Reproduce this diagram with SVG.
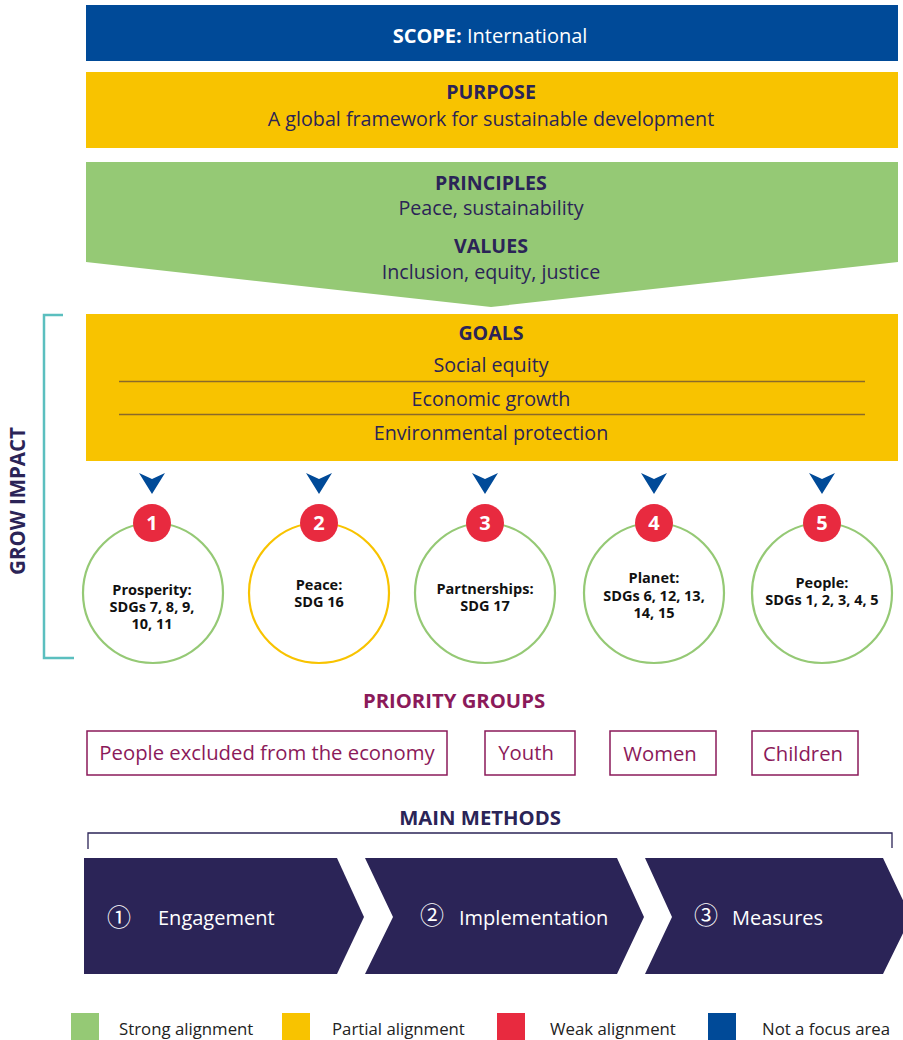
<svg xmlns="http://www.w3.org/2000/svg" width="903" height="1040" viewBox="0 0 903 1040">
<style>
text{font-family:"Open Sans","Noto Sans","DejaVu Sans",sans-serif;}
.navy{fill:#2b2457;}
.h{font-weight:bold;font-size:19.6px;}
.t{font-size:19.7px;}
.c{text-anchor:middle;}
.ct{font-weight:bold;font-size:14.5px;fill:#111;text-anchor:middle;}
.num{font-weight:bold;font-size:20px;fill:#fff;text-anchor:middle;}
.badge{fill:#e82a3f;}
.ring{fill:#fff;stroke-width:2.2;}
.pg{fill:#fff;stroke:#8b1a5a;stroke-width:1.5;}
.pgt{fill:#8b1a5a;font-size:20.3px;text-anchor:middle;}
.chev{fill:#2b2457;}
.mt{fill:#fff;font-size:20px;}
.cn{fill:#fff;font-size:24px;text-anchor:middle;font-family:"Noto Sans CJK JP","DejaVu Sans",sans-serif;}
.lg{font-size:16.8px;fill:#222;}
.sep{stroke:#8a6a2a;stroke-width:1.3;}
</style>
<defs>
<path id="tri" d="M-13,-11 L0,-5 L13,-11 L0,10 Z" fill="#004a98"/>
</defs>

<g id="scope">
<rect x="86" y="5" width="812" height="56" fill="#004a98"/>
<text x="490" y="43" class="c" font-size="20" fill="#fff"><tspan font-weight="bold">SCOPE:</tspan> International</text>
</g>

<g id="purpose">
<rect x="86" y="72" width="812" height="76" fill="#f8c300"/>
<text x="491" y="99" class="h c navy">PURPOSE</text>
<text x="491" y="126" class="t c navy">A global framework for sustainable development</text>
</g>

<g id="principles">
<polygon points="86,162 898,162 898,262 491,307 86,262" fill="#95c975"/>
<text x="491" y="190" class="h c navy">PRINCIPLES</text>
<text x="491" y="215" class="t c navy">Peace, sustainability</text>
<text x="491" y="253" class="h c navy">VALUES</text>
<text x="491" y="279" class="t c navy">Inclusion, equity, justice</text>
</g>

<g id="goals">
<rect x="86" y="314" width="812" height="147" fill="#f8c300"/>
<text x="491" y="340" class="h c navy">GOALS</text>
<text x="491" y="372" class="t c navy">Social equity</text>
<line x1="119" y1="381.5" x2="865" y2="381.5" class="sep"/>
<text x="491" y="406" class="t c navy">Economic growth</text>
<line x1="119" y1="414.5" x2="865" y2="414.5" class="sep"/>
<text x="491" y="440" class="t c navy">Environmental protection</text>
</g>

<g id="grow-impact">
<polyline points="63,315 44,315 44,658 74,658" fill="none" stroke="#5bbfbf" stroke-width="2.5"/>
<text transform="translate(25,501) rotate(-90)" class="c navy" font-weight="bold" font-size="20.5">GROW IMPACT</text>
</g>

<g id="connectors">
<use href="#tri" x="152" y="484"/>
<use href="#tri" x="319" y="484"/>
<use href="#tri" x="485" y="484"/>
<use href="#tri" x="654" y="484"/>
<use href="#tri" x="822" y="484"/>
</g>

<g id="prosperity">
<circle cx="153" cy="593" r="70" class="ring" stroke="#95c975"/>
<circle cx="152" cy="523" r="19" class="badge"/>
<text x="152" y="530" class="num">1</text>
<text x="152" y="595" class="ct">Prosperity:</text>
<text x="152" y="612" class="ct">SDGs 7, 8, 9,</text>
<text x="152" y="629" class="ct">10, 11</text>
</g>

<g id="peace">
<circle cx="319" cy="593" r="70" class="ring" stroke="#f8c300"/>
<circle cx="319" cy="523" r="19" class="badge"/>
<text x="319" y="530" class="num">2</text>
<text x="319" y="590" class="ct">Peace:</text>
<text x="319" y="607" class="ct">SDG 16</text>
</g>

<g id="partnerships">
<circle cx="485" cy="593" r="70" class="ring" stroke="#95c975"/>
<circle cx="485" cy="523" r="19" class="badge"/>
<text x="485" y="530" class="num">3</text>
<text x="485" y="594" class="ct">Partnerships:</text>
<text x="485" y="611" class="ct">SDG 17</text>
</g>

<g id="planet">
<circle cx="654" cy="593" r="70" class="ring" stroke="#95c975"/>
<circle cx="654" cy="523" r="19" class="badge"/>
<text x="654" y="530" class="num">4</text>
<text x="654" y="583" class="ct">Planet:</text>
<text x="654" y="601" class="ct">SDGs 6, 12, 13,</text>
<text x="654" y="618" class="ct">14, 15</text>
</g>

<g id="people">
<circle cx="822" cy="593" r="70" class="ring" stroke="#95c975"/>
<circle cx="822" cy="523" r="19" class="badge"/>
<text x="822" y="530" class="num">5</text>
<text x="822" y="588" class="ct">People:</text>
<text x="822" y="605" class="ct">SDGs 1, 2, 3, 4, 5</text>
</g>

<g id="priority-groups">
<text x="454" y="708" class="c" font-weight="bold" font-size="20.3" fill="#8b1a5a">PRIORITY GROUPS</text>
</g>
<g id="pg-excluded">
<rect x="87" y="731" width="360" height="44" class="pg"/>
<text x="267" y="760" class="pgt">People excluded from the economy</text>
</g>
<g id="pg-youth">
<rect x="485" y="731" width="90" height="44" class="pg"/>
<text x="526" y="760" class="pgt">Youth</text>
</g>
<g id="pg-women">
<rect x="610" y="731" width="106" height="44" class="pg"/>
<text x="660" y="761" class="pgt">Women</text>
</g>
<g id="pg-children">
<rect x="752" y="731" width="106" height="44" class="pg"/>
<text x="803" y="761" class="pgt">Children</text>
</g>

<g id="main-methods">
<text x="480" y="825" class="c navy" font-weight="bold" font-size="20.3">MAIN METHODS</text>
<polyline points="88,849 88,833 892,833 892,848" fill="none" stroke="#2b2457" stroke-width="1.3"/>
</g>

<g id="engagement">
<polygon points="84,858 337,858 364,917 337,974 84,974" class="chev"/>
<text x="119" y="926" class="cn">①</text>
<text x="158" y="925" class="mt">Engagement</text>
</g>
<g id="implementation">
<polygon points="365,858 617,858 644,917 617,974 365,974 393,917" class="chev"/>
<text x="432" y="924" class="cn">②</text>
<text x="459" y="925" class="mt">Implementation</text>
</g>
<g id="measures">
<polygon points="645,858 883,858 911,917 883,974 645,974 672,917" class="chev"/>
<text x="706" y="924" class="cn">③</text>
<text x="732" y="925" class="mt">Measures</text>
</g>

<g id="legend">
<rect x="71" y="1013" width="28" height="28" fill="#95c975"/>
<text x="119" y="1035" class="lg">Strong alignment</text>
<rect x="282" y="1013" width="28" height="28" fill="#f8c300"/>
<text x="332" y="1035" class="lg">Partial alignment</text>
<rect x="497" y="1013" width="28" height="28" fill="#e82a3f"/>
<text x="550" y="1035" class="lg">Weak alignment</text>
<rect x="708" y="1013" width="28" height="28" fill="#004a98"/>
<text x="762" y="1035" class="lg">Not a focus area</text>
</g>
</svg>
